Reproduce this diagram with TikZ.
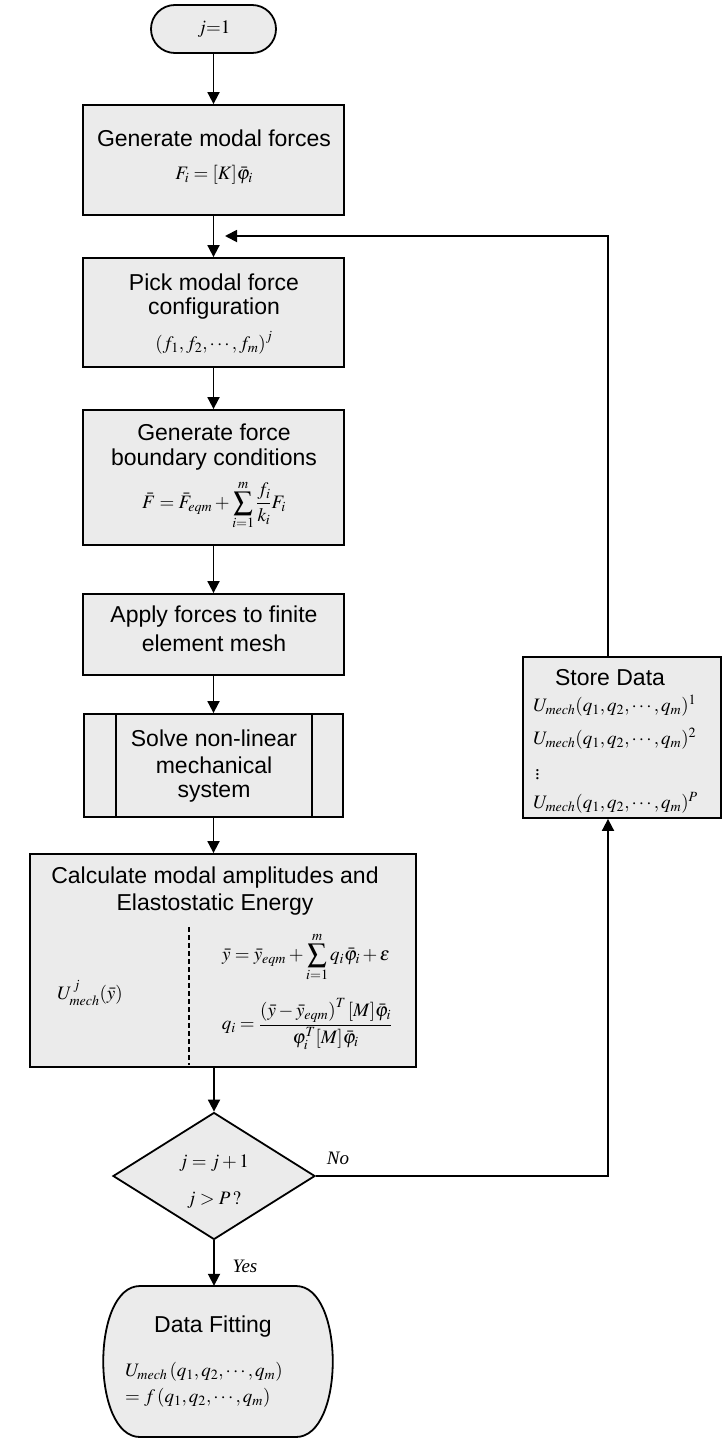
\documentclass[tikz,border=0pt]{standalone}
\usepackage{mathptmx}
\usepackage[no-math]{fontspec}
\setmainfont{Liberation Serif}
\setsansfont{Liberation Sans}
\usetikzlibrary{arrows.meta,shapes.geometric,calc}
\definecolor{boxfill}{gray}{0.92}
\tikzset{
  box/.style={draw, line width=1.8pt, fill=boxfill, inner sep=0pt, minimum width=261pt},
  ttl/.style={inner sep=0pt, font=\sffamily\fontsize{23}{27}\selectfont},
  mth/.style={inner sep=0pt, font=\fontsize{19}{23}\selectfont},
  lbl/.style={inner sep=0pt, font=\itshape\fontsize{19}{23}\selectfont},
  arr/.style={line width=1.8pt, -{Triangle[width=12pt,length=12pt]}},
  plain/.style={line width=1.8pt},
}
\begin{document}
\begin{tikzpicture}[x=1pt,y=-1pt]
\useasboundingbox (0,0) rectangle (725,1440);

% start terminal
\node[box, minimum width=125pt, minimum height=48pt, rounded corners=23.9pt] (start) at (213.5,29) {};
\node[mth] (startt) at (214,29) {$j{=}1$};

% box 1
\node[box, minimum height=110pt] (b1) at (213.5,160) {};
\node[ttl] (b1t) at (214,138) {Generate modal forces};
\node[mth] (b1m) at (214,175) {$F_i=[K]\bar{\varphi}_i$};

% box 2
\node[box, minimum height=109pt] (b2) at (213.5,312.5) {};
\node[ttl] (b2t) at (214,282) {Pick modal force};
\node[ttl] (b2u) at (214,309) {configuration};
\node[mth] (b2m) at (214,343) {$\left(f_1,f_2,\cdots,f_m\right)^{j}$};

% box 3
\node[box, minimum height=135pt] (b3) at (213.5,477.5) {};
\node[ttl] (b3t) at (214,432) {Generate force};
\node[ttl] (b3u) at (214,460) {boundary conditions};
\node[mth] (b3m) at (214,505) {$\displaystyle \bar{F}=\bar{F}_{eqm}+\sum_{i=1}^{m}\frac{f_i}{k_i}F_i$};

% box 4
\node[box, minimum height=81pt] (b4) at (213.5,634.5) {};
\node[ttl] (b4t) at (214,617) {Apply forces to finite};
\node[ttl] (b4u) at (214,643) {element mesh};

% box 5 (predefined process)
\node[box, minimum width=259pt, minimum height=103pt] (b5) at (213.5,765.5) {};
\draw[plain] ($(b5.north)+(-97.5,0)$) -- ($(b5.south)+(-97.5,0)$);
\draw[plain] ($(b5.north)+(98.5,0)$) -- ($(b5.south)+(98.5,0)$);
\node[ttl] (b5t) at (214,738) {Solve non-linear};
\node[ttl] (b5u) at (214,765) {mechanical};
\node[ttl] (b5v) at (214,792) {system};

% box 6
\node[box, minimum width=386pt, minimum height=213pt] (b6) at (223,960.5) {};
\node[ttl] (b6t) at (215,878) {Calculate modal amplitudes and};
\node[ttl] (b6u) at (215,905) {Elastostatic Energy};
\draw[line width=1.2pt, dash pattern=on 5pt off 3pt] (189,927) -- (189,1065);
\node[mth] (b6l) at (90,993) {$U^{\,j}_{mech}(\bar{y})$};
\node[mth] (b6m) at (306,957) {$\displaystyle \bar{y}=\bar{y}_{eqm}+\sum_{i=1}^{m}q_i\bar{\varphi}_i+\varepsilon$};
\node[mth] (b6n) at (307,1024) {$\displaystyle q_i=\frac{\left(\bar{y}-\bar{y}_{eqm}\right)^{T}[M]\bar{\varphi}_i}{\varphi_i^{T}[M]\bar{\varphi}_i}$};

% decision
\node[draw, line width=1.8pt, fill=boxfill, diamond, inner sep=0pt, minimum width=202pt, minimum height=127pt] (dec) at (214,1176) {};
\node[mth] (dect) at (214,1163) {$j=j+1$};
\node[mth] (decu) at (214,1200) {$j>P\,?$};
\node[lbl] (no) at (338,1158) {No};
\node[lbl] (yes) at (245,1266) {Yes};

% store data
\node[box, minimum width=198pt, minimum height=161pt] (store) at (622,737.5) {};
\node[ttl] (st) at (610,678) {Store Data};
\node[mth, anchor=west] (s1) at (533,706) {$U_{mech}(q_1,q_2,\cdots,q_m)^{1}$};
\node[mth, anchor=west] (s2) at (533,739) {$U_{mech}(q_1,q_2,\cdots,q_m)^{2}$};
\node[mth, anchor=west] (s3) at (535,772) {$\vdots$};
\node[mth, anchor=west] (s4) at (533,803) {$U_{mech}(q_1,q_2,\cdots,q_m)^{P}$};

% data fitting
\node[inner sep=0pt, minimum width=230pt, minimum height=151pt] (fit) at (214,1361.5) {};
\draw[line width=1.8pt, fill=boxfill] (140,1286) -- (296,1286) .. controls (345,1286) and (345,1437) .. (296,1437) -- (140,1437) .. controls (91,1437) and (91,1286) .. (140,1286) -- cycle;
\node[ttl] (ft) at (213,1327) {Data Fitting};
\node[mth, anchor=west] (f1) at (125,1372) {$U_{mech}\left(q_1,q_2,\cdots,q_m\right)$};
\node[mth, anchor=west] (f2) at (125,1398) {$=f\left(q_1,q_2,\cdots,q_m\right)$};

% connectors
\coordinate (sx) at (608,0);
\coordinate (fb) at (225,236);
\draw[arr] (start.south) -- (b1.north);
\draw[arr] (b1.south) -- (b2.north);
\draw[arr] (b2.south) -- (b3.north);
\draw[arr] (b3.south) -- (b4.north);
\draw[arr] (b4.south) -- (b5.north);
\draw[arr] (b5.south) -- (b5.south |- b6.north);
\draw[arr] (dec.north |- b6.south) -- (dec.north);
\draw[arr] (dec.south) -- (fit.north);
\draw[arr] (dec.east) -| (store.south -| sx);
\draw[arr] (store.north -| sx) |- (fb);
\end{tikzpicture}
\end{document}
